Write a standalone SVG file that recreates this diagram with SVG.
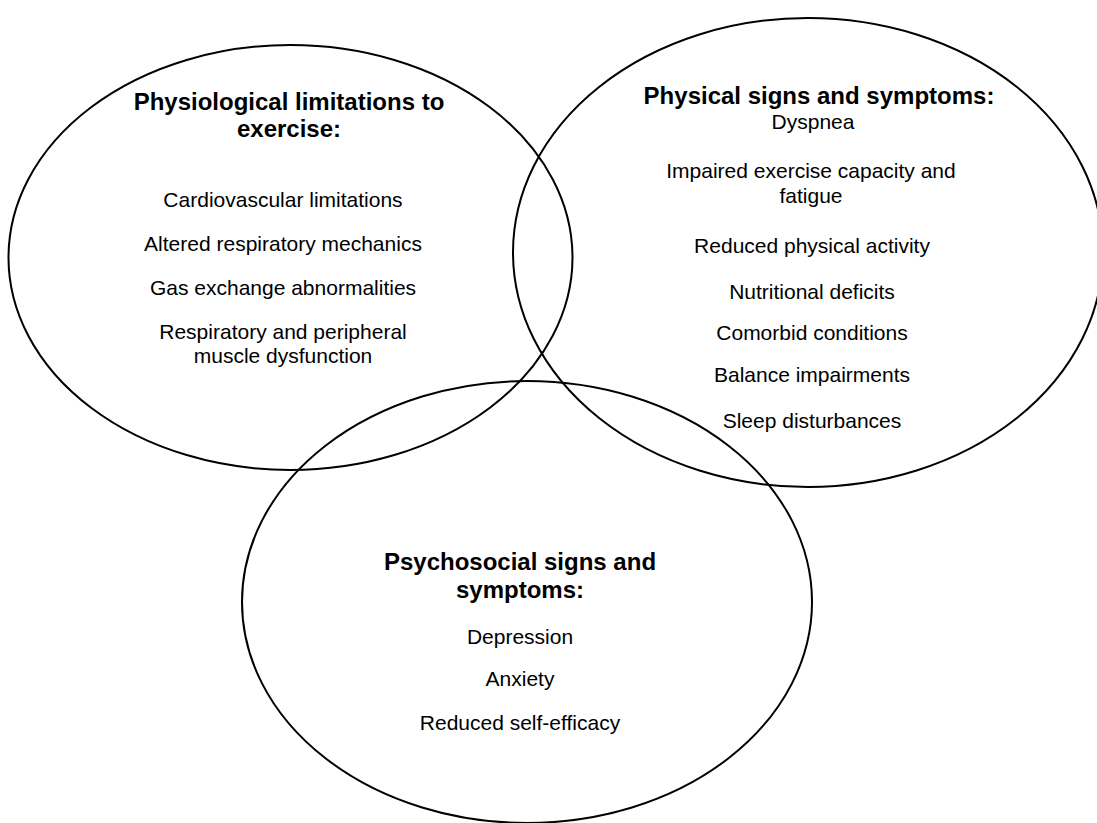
<svg xmlns="http://www.w3.org/2000/svg" width="1097" height="823" viewBox="0 0 1097 823">
<style>
.c{fill:none;stroke:#000;stroke-width:2}
text{font-family:"Liberation Sans",Arial,sans-serif;fill:#000;text-anchor:middle}
.t{font-size:24px;font-weight:bold}
.i{font-size:21px}
</style>
<rect width="1097" height="823" fill="#fff"/>
<g id="physiological">
<ellipse class="c" cx="290.5" cy="257.5" rx="282" ry="212.5"/>
<text class="t" x="289" y="110">Physiological limitations to</text>
<text class="t" x="289" y="137">exercise:</text>
<text class="i" x="283" y="207">Cardiovascular limitations</text>
<text class="i" x="283" y="251">Altered respiratory mechanics</text>
<text class="i" x="283" y="295">Gas exchange abnormalities</text>
<text class="i" x="283" y="339">Respiratory and peripheral</text>
<text class="i" x="283" y="363">muscle dysfunction</text>
</g>
<g id="physical">
<ellipse class="c" cx="808" cy="252.5" rx="295" ry="234.5"/>
<text class="t" x="819" y="104">Physical signs and symptoms:</text>
<text class="i" x="813" y="129">Dyspnea</text>
<text class="i" x="811" y="178">Impaired exercise capacity and</text>
<text class="i" x="811" y="203">fatigue</text>
<text class="i" x="812" y="253">Reduced physical activity</text>
<text class="i" x="812" y="299">Nutritional deficits</text>
<text class="i" x="812" y="340">Comorbid conditions</text>
<text class="i" x="812" y="382">Balance impairments</text>
<text class="i" x="812" y="428">Sleep disturbances</text>
</g>
<g id="psychosocial">
<ellipse class="c" cx="527" cy="602" rx="285" ry="221"/>
<text class="t" x="520" y="570">Psychosocial signs and</text>
<text class="t" x="520" y="598">symptoms:</text>
<text class="i" x="520" y="644">Depression</text>
<text class="i" x="520" y="686">Anxiety</text>
<text class="i" x="520" y="730">Reduced self-efficacy</text>
</g>
<g id="connectors"/>
</svg>
